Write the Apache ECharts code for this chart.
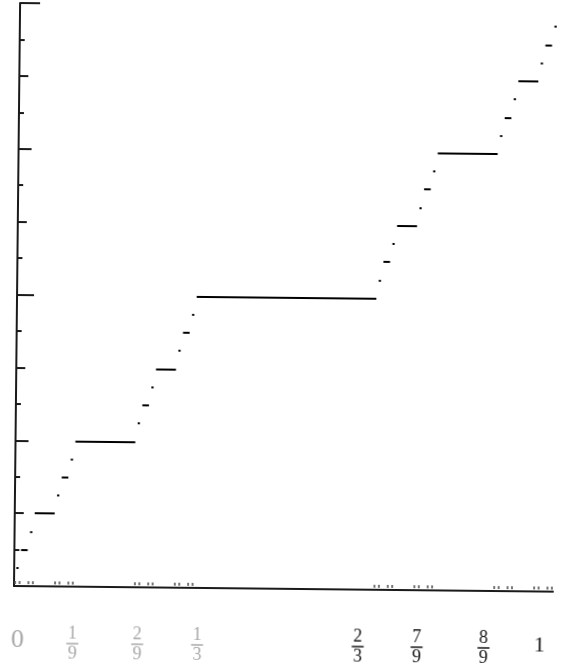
<!DOCTYPE html>
<html>
<head>
<meta charset="utf-8">
<script src="https://cdn.jsdelivr.net/npm/echarts@6/dist/echarts.min.js"></script>
<style>
html, body { margin: 0; padding: 0; background: #fff; }
/* the scanned figure is tilted a little clockwise */
#chart { width: 564px; height: 664px; transform: rotate(0.6deg); transform-origin: 14px 586px; }
</style>
</head>
<body>
<div id="chart"></div>
<script>
// Cantor function plateaus: ends in 243rds of the x range, heights in 32nds
var plateauFrom = [81, 27, 189, 9, 63, 171, 225, 3, 21, 57, 75, 165, 183, 219, 237,
  1, 7, 19, 25, 55, 61, 73, 79, 163, 169, 181, 187, 217, 223, 235, 241]
var plateauTo = [162, 54, 216, 18, 72, 180, 234, 6, 24, 60, 78, 168, 186, 222, 240,
  2, 8, 20, 26, 56, 62, 74, 80, 164, 170, 182, 188, 218, 224, 236, 242]
var plateauHeight = [16, 8, 24, 4, 12, 20, 28, 2, 6, 10, 14, 18, 22, 26, 30,
  1, 3, 5, 7, 9, 11, 13, 15, 17, 19, 21, 23, 25, 27, 29, 31]
// little marks along the x axis (start of each interval, in 243rds)
var cantorMarks = [0, 2, 6, 8, 18, 20, 24, 26, 54, 56, 60, 62, 72, 74, 78, 80,
  162, 164, 168, 170, 180, 182, 186, 188, 216, 218, 222, 224, 234, 236, 240, 242]
// x tick labels
var xTickValues = [0, 1 / 9, 2 / 9, 1 / 3, 2 / 3, 7 / 9, 8 / 9, 1]
var xTickNum = ['0', '1', '2', '1', '2', '7', '8', '1']
var xTickDen = ['', '9', '9', '3', '3', '9', '9', '']

var chart = echarts.init(document.getElementById('chart'))

var stepLines = plateauFrom.map(function (f, i) {
  var y = plateauHeight[i] / 32
  return { coords: [[f / 243, y], [plateauTo[i] / 243, y]] }
})
var markPts = cantorMarks.map(function (m) {
  return [(m + 0.5) / 243, 0.006]
})

// the printed labels sit a bit off their ticks (px, + = right)
var labelShift = [4, -1, 4, 4, -15, -16, -9, -13]

function labelStyles(prefix, color, wholeSize) {
  var s = {}
  var font = 'Liberation Serif'
  s[prefix + 'W'] = { fontFamily: font, fontSize: wholeSize, lineHeight: 24, color: color, padding: [4, 0, 0, 0] }
  s[prefix + 'N'] = { fontFamily: font, fontSize: 18, lineHeight: 15, color: color }
  s[prefix + 'B'] = { fontSize: 1, width: 12, height: 1.5, lineHeight: 4, backgroundColor: color }
  s[prefix + 'D'] = { fontFamily: font, fontSize: 18, lineHeight: 16, color: color }
  return s
}
var rich = Object.assign({}, labelStyles('k', '#151515', 22), labelStyles('g', '#a8a8a8', 26))
labelShift.forEach(function (d) {
  rich['sp' + Math.abs(d)] = { fontSize: 1, width: Math.abs(d) * 2 }
})

function shiftLine(txt, d) {
  var sp = '{sp' + Math.abs(d) + '| }'
  return d > 0 ? sp + txt : txt + sp
}

// y ticks of different lengths, one overlaid axis per level
function tickAxis(interval, len, showLine) {
  return {
    type: 'value', min: 0, max: 1, interval: interval, position: 'left', offset: 0,
    axisLine: { show: showLine, onZero: false, lineStyle: { color: '#1a1a1a', width: 2 } },
    axisTick: { show: true, inside: true, length: len, lineStyle: { color: '#1a1a1a', width: 2 } },
    axisLabel: { show: false },
    splitLine: { show: false }
  }
}

var option = {
  animation: false,
  backgroundColor: '#fff',
  grid: { left: 14, right: 11, top: 3, bottom: 78, outerBoundsMode: 'none' },
  xAxis: {
    type: 'value', min: 0, max: 1,
    axisLine: { show: true, onZero: false, lineStyle: { color: '#1a1a1a', width: 2 } },
    axisTick: { show: false },
    splitLine: { show: false },
    axisLabel: {
      customValues: xTickValues,
      margin: 40,
      formatter: function (v) {
        var i = 0
        for (var k = 0; k < xTickValues.length; k++) {
          if (Math.abs(xTickValues[k] - v) < 1e-6) i = k
        }
        var p = i < 4 ? 'g' : 'k'
        var d = labelShift[i]
        if (xTickDen[i] === '') return shiftLine('{' + p + 'W|' + xTickNum[i] + '}', d)
        return shiftLine('{' + p + 'N|' + xTickNum[i] + '}', d) + '\n' +
          shiftLine('{' + p + 'B| }', d) + '\n' +
          shiftLine('{' + p + 'D|' + xTickDen[i] + '}', d)
      },
      rich: rich
    }
  },
  yAxis: [
    tickAxis(1 / 16, 5, true),
    tickAxis(1 / 8, 9, false),
    tickAxis(1 / 4, 13, false),
    tickAxis(1 / 2, 17, false),
    tickAxis(1, 20, false)
  ],
  series: [
    {
      type: 'lines',
      coordinateSystem: 'cartesian2d',
      xAxisIndex: 0,
      yAxisIndex: 0,
      silent: true,
      lineStyle: { color: '#000', width: 2, opacity: 1 },
      data: stepLines
    },
    {
      type: 'scatter',
      xAxisIndex: 0,
      yAxisIndex: 0,
      silent: true,
      symbol: 'rect',
      symbolSize: [2, 3],
      itemStyle: { color: '#555' },
      data: markPts
    }
  ]
}
chart.setOption(option)
</script>
</body>
</html>
